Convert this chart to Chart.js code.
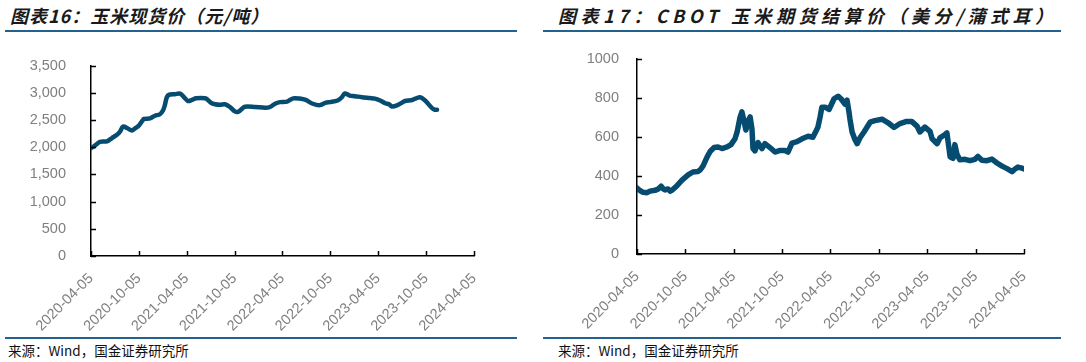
<!DOCTYPE html>
<html lang="zh-CN">
<head>
<meta charset="UTF-8" />
<title>玉米现货价 / CBOT 玉米期货结算价</title>
<style>
  body { margin: 0; background: #fff; }
  .page { position: relative; width: 1086px; height: 362px; overflow: hidden; }
  .title {
    position: absolute; top: 2px;
    font-family: "Noto Sans CJK SC", sans-serif;
    font-size: 18px; font-style: italic; font-weight: bold;
    color: #1a1a1a; white-space: nowrap;
  }
  .rule { position: absolute; height: 2px; background: #23618f; }
  .src {
    position: absolute; top: 340px;
    font-family: "Noto Sans CJK SC", sans-serif;
    font-size: 13.5px; color: #111; white-space: nowrap;
  }
  .box { position: absolute; top: 40px; width: 543px; height: 300px; }
</style>
</head>
<body>
<div class="page">
  <div class="title" style="left:10px; letter-spacing:1px">图表16：玉米现货价（元/吨）</div>
  <div class="title" style="left:558px; letter-spacing:4.5px">图表17：CBOT 玉米期货结算价（美分/蒲式耳）</div>
  <div class="rule" style="left:5px; top:30px; width:512px"></div>
  <div class="rule" style="left:543px; top:30px; width:518px"></div>

  <div class="box" style="left:0"><canvas id="spotChart" width="543" height="300"></canvas></div>
  <div class="box" style="left:543px"><canvas id="cbotChart" width="543" height="300"></canvas></div>

  <div class="rule" style="left:5px; top:337px; width:512px"></div>
  <div class="rule" style="left:543px; top:337px; width:518px"></div>
  <div class="src" style="left:8px">来源：Wind，国金证券研究所</div>
  <div class="src" style="left:558px">来源：Wind，国金证券研究所</div>
</div>

<script src="https://cdn.jsdelivr.net/npm/chart.js"></script>
<script>
// x轴刻度（每半年）
const xTickDates = [
  "2020-04-05", "2020-10-05", "2021-04-05", "2021-10-05", "2022-04-05",
  "2022-10-05", "2023-04-05", "2023-10-05", "2024-04-05",
];

// 玉米现货价（元/吨）
const spotDates = [
  "2020-04-05", "2020-04-20", "2020-05-09", "2020-06-05", "2020-06-24", "2020-07-13",
  "2020-07-25", "2020-08-05", "2020-08-24", "2020-09-08", "2020-09-24", "2020-10-05",
  "2020-10-17", "2020-10-24", "2020-11-16", "2020-12-05", "2020-12-24", "2021-01-05",
  "2021-01-12", "2021-01-20", "2021-01-31", "2021-02-19", "2021-03-11", "2021-03-26",
  "2021-04-10", "2021-04-25", "2021-05-11", "2021-06-14", "2021-06-25", "2021-07-07",
  "2021-07-22", "2021-08-10", "2021-08-29", "2021-09-17", "2021-10-06", "2021-10-18",
  "2021-10-29", "2021-11-13", "2021-12-22", "2022-01-29", "2022-02-17", "2022-03-08",
  "2022-03-27", "2022-04-23", "2022-05-16", "2022-06-10", "2022-07-03", "2022-07-30",
  "2022-08-26", "2022-09-18", "2022-10-03", "2022-11-02", "2022-11-18", "2022-11-29",
  "2022-12-18", "2023-01-06", "2023-02-02", "2023-03-05", "2023-03-24", "2023-04-13",
  "2023-05-02", "2023-05-17", "2023-05-28", "2023-06-16", "2023-07-05", "2023-07-17",
  "2023-08-13", "2023-08-28", "2023-09-12", "2023-09-27", "2023-10-13", "2023-10-28",
  "2023-11-08", "2023-11-16",
];
const spotPrices = [
  1985, 2030, 2100, 2110, 2170, 2230,
  2290, 2380, 2345, 2310, 2360, 2400,
  2480, 2520, 2530, 2580, 2607, 2680,
  2780, 2930, 2970, 2976, 2985, 2920,
  2850, 2870, 2900, 2900, 2870, 2815,
  2790, 2780, 2790, 2740, 2660, 2650,
  2690, 2745, 2740, 2727, 2740, 2800,
  2830, 2840, 2900, 2895, 2870, 2800,
  2775, 2820, 2830, 2860, 2920, 2990,
  2950, 2940, 2920, 2905, 2895, 2860,
  2810, 2790, 2750, 2770, 2820, 2850,
  2870, 2900, 2920, 2880, 2800, 2720,
  2690, 2690,
];

// CBOT 玉米期货结算价（美分/蒲式耳）
const cbotDates = [
  "2020-04-05", "2020-04-16", "2020-04-28", "2020-05-13", "2020-05-24", "2020-06-12",
  "2020-06-23", "2020-07-05", "2020-07-12", "2020-07-20", "2020-07-31", "2020-08-08",
  "2020-08-15", "2020-09-03", "2020-09-22", "2020-10-15", "2020-11-02", "2020-11-21",
  "2020-11-29", "2020-12-10", "2020-12-25", "2021-01-06", "2021-01-21", "2021-02-05",
  "2021-02-20", "2021-03-11", "2021-03-26", "2021-04-10", "2021-04-18", "2021-04-29",
  "2021-05-06", "2021-05-14", "2021-05-21", "2021-05-29", "2021-06-06", "2021-06-13",
  "2021-06-17", "2021-06-24", "2021-07-06", "2021-07-13", "2021-07-21", "2021-08-01",
  "2021-08-20", "2021-09-08", "2021-09-27", "2021-10-16", "2021-10-27", "2021-11-11",
  "2021-11-30", "2021-12-19", "2022-01-11", "2022-01-29", "2022-02-10", "2022-02-17",
  "2022-02-25", "2022-03-04", "2022-03-16", "2022-03-31", "2022-04-19", "2022-05-04",
  "2022-05-15", "2022-05-30", "2022-06-07", "2022-06-14", "2022-06-18", "2022-06-26",
  "2022-07-07", "2022-07-15", "2022-07-26", "2022-08-10", "2022-09-02", "2022-09-20",
  "2022-10-17", "2022-11-09", "2022-12-01", "2022-12-24", "2023-01-15", "2023-02-07",
  "2023-02-26", "2023-03-09", "2023-03-28", "2023-04-16", "2023-04-24", "2023-05-13",
  "2023-05-24", "2023-06-12", "2023-06-19", "2023-07-01", "2023-07-12", "2023-07-19",
  "2023-07-27", "2023-08-07", "2023-08-26", "2023-09-14", "2023-10-03", "2023-10-14",
  "2023-10-29", "2023-11-17", "2023-12-06", "2023-12-25", "2024-01-13", "2024-02-01",
  "2024-02-20", "2024-03-02", "2024-03-13", "2024-03-28", "2024-04-05",
];
const cbotPrices = [
  338, 325, 316, 314, 322, 326,
  332, 347, 335, 328, 333, 322,
  326, 350, 378, 405, 420, 422,
  430, 450, 495, 525, 545, 548,
  540, 548, 560, 590, 625, 700,
  728, 680, 635, 680, 702, 640,
  540, 528, 570, 555, 540, 565,
  545, 522, 530, 530, 522, 568,
  575, 590, 603, 598, 630, 650,
  700, 752, 752, 740, 795, 808,
  795, 768, 788, 730, 690, 625,
  585, 565, 595, 625, 675, 683,
  690, 672, 648, 668, 678, 678,
  655, 625, 650, 628, 590, 565,
  595, 612, 620, 498, 490, 560,
  510, 482, 485, 478, 485, 500,
  480, 478, 486, 466, 450, 437,
  422, 435, 445, 440, 436,
];

const lineColor = "#064c70";
const base = Date.UTC(2020, 3, 5);
function dayOf(s) {
  const p = s.split("-").map(Number);
  return (Date.UTC(p[0], p[1] - 1, p[2]) - base) / 86400000;
}

// 刻度线画在坐标轴内侧
const innerTicks = {
  id: "innerTicks",
  afterDraw(chart) {
    const ctx = chart.ctx;
    const xs = chart.scales.x, ys = chart.scales.y;
    ctx.save();
    ctx.strokeStyle = "#000";
    ctx.lineWidth = 1.5;
    ctx.beginPath();
    xs.ticks.forEach((t) => {
      const px = Math.round(xs.getPixelForValue(t.value)) + 0.5;
      ctx.moveTo(px, xs.top);
      ctx.lineTo(px, xs.top - 5);
    });
    ys.ticks.forEach((t) => {
      const py = Math.round(ys.getPixelForValue(t.value)) + 0.5;
      ctx.moveTo(ys.right, py);
      ctx.lineTo(ys.right + 5, py);
    });
    ctx.stroke();
    ctx.restore();
  },
};

function makeChart(id, dates, values, cfg) {
  const tickFont = { family: "'Liberation Sans', Arial, sans-serif", size: 14.5 };
  return new Chart(document.getElementById(id), {
    type: "line",
    data: {
      datasets: [{
        data: dates.map((d, i) => ({ x: dayOf(d), y: values[i] })),
        borderColor: lineColor,
        borderWidth: cfg.lineWidth,
        pointRadius: 0,
        tension: cfg.tension,
        borderJoinStyle: "round",
        borderCapStyle: "round",
      }],
    },
    options: {
      responsive: false,
      animation: false,
      devicePixelRatio: 1,
      layout: { padding: { top: cfg.top, right: cfg.right, left: 0, bottom: 0 } },
      plugins: { legend: { display: false }, tooltip: { enabled: false } },
      scales: {
        x: {
          type: "linear",
          min: dayOf(xTickDates[0]),
          max: dayOf(xTickDates[xTickDates.length - 1]),
          afterBuildTicks: (s) => { s.ticks = xTickDates.map((d) => ({ value: dayOf(d) })); },
          afterFit: (s) => { s.height = cfg.xHeight; },
          grid: { display: false },
          border: { display: true, color: "#000", width: 1.5 },
          ticks: {
            autoSkip: false, minRotation: 45, maxRotation: 45, padding: 6,
            color: "#7f7f7f", font: tickFont,
            callback: (v, i) => xTickDates[i],
          },
        },
        y: {
          min: 0, max: cfg.yMax,
          afterFit: (s) => { s.width = cfg.yWidth; },
          grid: { display: false },
          border: { display: true, color: "#000", width: 1.5 },
          ticks: {
            stepSize: cfg.yStep, padding: cfg.yPad,
            color: "#7f7f7f", font: tickFont,
            callback: cfg.yFormat,
          },
        },
      },
    },
    plugins: [innerTicks],
  });
}

makeChart("spotChart", spotDates, spotPrices, {
  yMax: 3500, yStep: 500, yWidth: 91, yPad: 17, xHeight: 84, top: 20, right: 69,
  lineWidth: 4.5, tension: 0.3,
  yFormat: (v) => v.toLocaleString("en-US"),
});
makeChart("cbotChart", cbotDates, cbotPrices, {
  yMax: 1000, yStep: 200, yWidth: 94, yPad: 10, xHeight: 86, top: 14, right: 62,
  lineWidth: 5.5, tension: 0,
  yFormat: (v) => String(v),
});
</script>
</body>
</html>
